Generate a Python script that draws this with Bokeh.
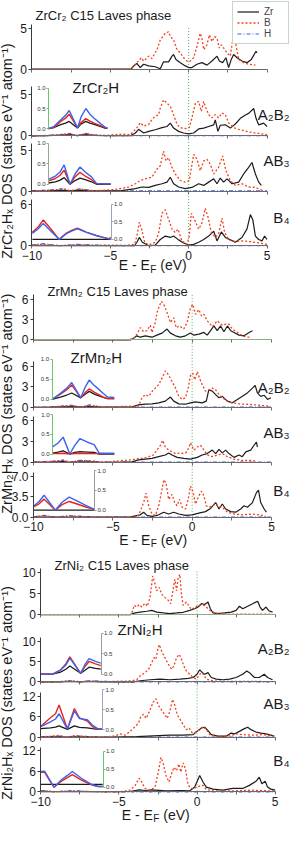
import math
from bokeh.plotting import figure
from bokeh.models import Range1d, LinearAxis, FixedTicker, Label, Legend, LegendItem
from bokeh.embed import file_html
from bokeh.resources import INLINE

# ---------------- ticks and texts ----------------
X_TICKS = [-10, -5, 0, 5]
X_MINOR = [-7.5, -2.5, 2.5]
INSET_TICKS = [0.0, 0.5, 1.0]
INSET_TICK_LABELS = ["0.0", "0.5", "1.0"]
CR_Y_TICKS = [[0, 5], [0, 5], [0, 5], [0, 6]]
MN_Y_TICKS = [[0, 3, 6], [0, 3, 6], [0, 3, 6], [0.0, 3.5, 7.0]]
NI_Y_TICKS = [[0, 5, 10], [0, 5, 10], [0, 6, 12], [0, 6, 12]]
CR_Y_LABELS = [["0", "5"], ["0", "5"], ["0", "5"], ["0", "6"]]
MN_Y_LABELS = [["0", "3", "6"], ["0", "3", "6"], ["0", "3", "6"], ["0.0", "3.5", "7.0"]]
NI_Y_LABELS = [["0", "5", "10"], ["0", "5", "10"], ["0", "6", "12"], ["0", "6", "12"]]
SERIES_NAMES = ["Zr", "B", "H"]
SIDE_TEXT = ["A₂B₂", "AB₃", "B₄"]
CR_TEXT = ["ZrCr₂ C15 Laves phase", "ZrCr₂H", "ZrCr₂Hₓ DOS (states eV⁻¹ atom⁻¹)"]
MN_TEXT = ["ZrMn₂ C15 Laves phase", "ZrMn₂H", "ZrMn₂Hₓ DOS (states eV⁻¹ atom⁻¹)"]
NI_TEXT = ["ZrNi₂ C15 Laves phase", "ZrNi₂H", "ZrNi₂Hₓ DOS (states eV⁻¹ atom⁻¹)"]
XLABEL_PARTS = ["E - E", "F", "(eV)"]

# ---------------- ZrCr2 ----------------
cr0_zr_e = [-10, -3.66, -3.51, -3.30, -3.09, -2.87, -2.55, -2.13, -1.81, -1.60, -1.28, -1.06, -0.96, -0.81, -0.53, -0.21, 0.0, 0.21, 0.53, 0.85, 1.17, 1.49, 1.81, 1.96, 2.17, 2.38, 2.55, 2.72, 2.87, 3.09, 3.40, 3.72, 4.00, 4.30, 4.36]
cr0_zr = [0, 0, 0.4, 0.7, 0.2, 0.6, 0.4, 0.3, 0.05, 0.9, 0.9, 1.6, 1.8, 1.2, 0.8, 0.4, 0.2, 0.2, 0.6, 0.8, 0.5, 1.0, 1.6, 1.0, 0.8, 1.4, 0.2, 1.2, 1.8, 1.4, 1.0, 0.8, 1.2, 2.2, 2.0]
cr0_b_e = [-10, -3.72, -3.51, -3.30, -3.02, -2.87, -2.55, -2.34, -2.02, -1.81, -1.49, -1.28, -1.17, -0.96, -0.74, -0.53, -0.32, -0.11, 0.04, 0.32, 0.53, 0.74, 0.85, 0.96, 1.17, 1.32, 1.49, 1.66, 1.81, 1.96, 2.09, 2.23, 2.45, 2.66, 2.87, 3.02, 3.19, 3.51, 3.83, 4.26]
cr0_b = [0, 0, 0.4, 0.8, 1.4, 1.0, 1.6, 1.3, 2.4, 3.6, 4.4, 4.6, 4.0, 3.6, 2.4, 2.0, 1.4, 1.0, 0.9, 1.4, 2.8, 4.4, 3.8, 2.4, 3.0, 4.2, 3.4, 4.0, 3.8, 2.6, 3.0, 2.6, 2.0, 1.6, 4.3, 3.0, 1.2, 0.8, 0.6, 0.5]

cr1_zr_e = [-10, -9.0, -8.2, -7.6, -7.1, -6.6, -6.0, -5.3, -4.0, -3.72, -3.40, -3.19, -2.87, -2.55, -2.13, -1.70, -1.38, -1.17, -0.96, -0.64, -0.32, 0.0, 0.32, 0.64, 0.96, 1.28, 1.60, 1.70, 1.87, 2.02, 2.34, 2.66, 2.98, 3.30, 3.62, 3.83, 4.15, 4.30, 4.47, 4.79, 5.0]
cr1_zr = [0, 0.02, 0.08, 0.15, 0.02, 0.15, 0.06, 0.02, 0.02, 0.02, 0.35, 0.8, 0.35, 0.55, 0.75, 1.0, 1.15, 1.55, 0.95, 0.55, 0.35, 0.25, 0.35, 0.85, 0.95, 1.15, 1.35, 1.95, 0.55, 1.3, 1.35, 0.95, 1.45, 2.15, 2.55, 2.75, 3.35, 2.15, 1.35, 1.55, 1.15]
cr1_b_e = [-10, -9.0, -8.2, -7.6, -7.1, -6.6, -6.0, -5.3, -4.8, -4.2, -3.72, -3.51, -3.30, -3.09, -2.87, -2.55, -2.34, -2.13, -1.91, -1.81, -1.60, -1.38, -1.17, -0.96, -0.74, -0.53, -0.21, 0.04, 0.21, 0.43, 0.64, 0.81, 0.96, 1.11, 1.28, 1.49, 1.70, 1.91, 2.13, 2.34, 2.55, 2.87, 3.19, 3.62, 4.04, 4.47, 5.0]
cr1_b = [0, 0.05, 0.15, 0.25, 0.05, 0.25, 0.1, 0.05, 0.15, 0.2, 0.15, 0.56, 1.0, 1.6, 1.2, 1.4, 2.0, 2.4, 2.6, 3.4, 4.4, 4.0, 3.6, 2.6, 1.4, 1.0, 0.9, 1.0, 2.2, 4.0, 4.2, 3.0, 4.2, 3.4, 2.6, 2.2, 2.6, 2.2, 2.8, 2.6, 1.6, 1.0, 0.8, 0.6, 0.4, 0.3, 0.15]
cr1_h_e = [-10, -9.0, -8.2, -7.6, -7.1, -6.6, -6.0, -5.3, -4.0, 0.0, 5.0]
cr1_h = [0, 0.03, 0.15, 0.3, 0.03, 0.3, 0.12, 0.03, 0.02, 0.02, 0.02]

cr2_zr_e = [-10, -9.0, -7.94, -7.57, -6.93, -6.4, -5.9, -4.8, -4.26, -3.40, -2.98, -2.55, -2.13, -1.70, -1.38, -1.17, -0.96, -0.64, -0.21, 0.21, 0.64, 0.96, 1.28, 1.60, 1.81, 2.02, 2.23, 2.45, 2.77, 3.19, 3.51, 3.83, 4.04, 4.26, 4.47, 4.64]
cr2_zr = [0, 0.03, 0.1, 0.02, 0.1, 0.05, 0.02, 0.02, 0.05, 0.3, 0.5, 0.45, 0.7, 0.9, 1.1, 1.7, 0.9, 0.5, 0.3, 0.45, 0.9, 0.7, 1.1, 1.5, 0.9, 1.6, 1.1, 1.5, 0.9, 1.1, 2.1, 2.9, 3.5, 2.1, 1.1, 0.7]
cr2_b_e = [-10, -9.0, -7.94, -7.57, -6.93, -6.4, -5.9, -5.5, -4.68, -3.83, -3.40, -3.09, -2.77, -2.34, -2.02, -1.81, -1.60, -1.45, -1.28, -1.06, -0.85, -0.53, -0.21, 0.04, 0.32, 0.53, 0.74, 0.96, 1.17, 1.38, 1.60, 1.91, 2.17, 2.38, 2.66, 2.98, 3.40, 3.83, 4.26, 4.68]
cr2_b = [0, 0.1, 0.25, 0.05, 0.25, 0.1, 0.05, 0.1, 0.2, 0.5, 0.9, 1.3, 1.5, 1.7, 2.7, 3.1, 4.9, 3.7, 4.1, 2.9, 2.1, 1.3, 1.1, 1.3, 4.5, 3.9, 2.5, 3.7, 3.9, 3.3, 2.1, 2.9, 4.3, 2.5, 1.3, 0.7, 0.9, 0.5, 0.45, 0.1]
cr2_h_e = [-10, -9.0, -7.94, -7.57, -6.93, -6.4, -5.9, -4.0, 5.0]
cr2_h = [0.05, 0.1, 0.3, 0.02, 0.28, 0.12, 0.03, 0.02, 0.02]

cr3_zr_e = [-10, -8.0, -5.0, -3.7, -3.45, -3.30, -3.15, -2.95, -2.55, -2.13, -1.81, -1.49, -1.17, -0.96, -0.64, -0.32, 0.0, 0.32, 0.64, 0.96, 1.28, 1.60, 1.81, 2.09, 2.34, 2.66, 2.98, 3.40, 3.72, 3.94, 4.09, 4.26, 4.47, 4.68, 4.85, 5.0]
cr3_zr = [0.02, 0.02, 0.02, 0.0, 0.0, 0.5, 1.2, 0.5, 0.0, 0.1, 0.9, 1.4, 1.2, 1.4, 0.85, 0.4, 0.1, 0.2, 0.5, 0.9, 1.4, 2.1, 0.7, 2.0, 1.2, 0.85, 0.5, 1.2, 2.4, 4.5, 3.8, 1.4, 0.9, 0.7, 1.4, 0.9]
cr3_b_e = [-10, -9.27, -8.26, -7.09, -6.0, -5.0, -4.0, -3.45, -3.30, -3.15, -3.0, -2.8, -2.55, -2.13, -1.91, -1.70, -1.49, -1.28, -1.06, -0.85, -0.68, -0.43, -0.11, 0.04, 0.17, 0.43, 0.64, 0.85, 1.06, 1.23, 1.45, 1.70, 1.91, 2.13, 2.30, 2.55, 2.98, 3.40, 3.94, 4.47, 5.0]
cr3_b = [0.1, 0.2, 0.02, 0.15, 0.05, 0.1, 0.05, 0.2, 1.4, 3.4, 2.4, 0.5, 0.1, 0.5, 1.9, 4.7, 5.2, 3.8, 2.4, 1.9, 2.4, 0.7, 0.2, 1.4, 4.7, 3.5, 2.4, 3.3, 5.4, 4.2, 1.9, 1.2, 1.7, 4.0, 1.9, 0.9, 0.6, 0.7, 0.6, 0.4, 0.2]
cr3_h_e = [-10, -9.27, -8.26, -7.09, -5.1, -4.0, 5.0]
cr3_h = [0.1, 0.3, 0.0, 0.2, 0.02, 0.02, 0.02]

# insets (energy, DOS) -- ZrCr2
cr_in1_e = [-8.95, -8.58, -8.16, -7.85, -7.62, -7.09, -6.85, -6.56, -6.3, -6.03, -5.6, -5.30, -5.18]
cr_in1_zr = [0.0, 0.03, 0.10, 0.14, 0.18, 0.02, 0.12, 0.18, 0.14, 0.11, 0.05, 0.01, 0.01]
cr_in1_b = [0.0, 0.04, 0.18, 0.26, 0.36, 0.02, 0.16, 0.25, 0.19, 0.14, 0.07, 0.02, 0.01]
cr_in1_h = [0.0, 0.06, 0.22, 0.33, 0.45, 0.02, 0.3, 0.50, 0.36, 0.26, 0.12, 0.03, 0.02]
cr_in2_e = [-8.95, -8.5, -8.2, -7.94, -7.57, -7.25, -6.93, -6.6, -6.2, -5.88, -5.4, -4.98]
cr_in2_zr = [0.03, 0.06, 0.1, 0.16, 0.0, 0.09, 0.15, 0.11, 0.06, 0.0, 0.0, 0.0]
cr_in2_b = [0.08, 0.14, 0.22, 0.34, 0.0, 0.18, 0.29, 0.2, 0.11, 0.01, 0.01, 0.01]
cr_in2_h = [0.12, 0.2, 0.3, 0.47, 0.0, 0.25, 0.42, 0.3, 0.18, 0.02, 0.01, 0.01]
cr_in3_e = [-9.97, -9.6, -9.27, -8.8, -8.26, -7.8, -7.4, -7.09, -6.5, -5.9, -5.4, -5.07, -4.98]
cr_in3_zr = [0.0, 0.0, 0.0, 0.0, 0.0, 0.0, 0.0, 0.0, 0.0, 0.0, 0.0, 0.0, 0.0]
cr_in3_b = [0.2, 0.35, 0.55, 0.3, 0.0, 0.18, 0.27, 0.32, 0.2, 0.11, 0.05, 0.01, 0.06]
cr_in3_h = [0.17, 0.3, 0.45, 0.24, 0.0, 0.16, 0.25, 0.3, 0.2, 0.11, 0.05, 0.02, 0.02]

# ---------------- ZrMn2 ----------------
mn0_zr_e = [-10, -3.90, -3.69, -3.48, -3.27, -2.95, -2.53, -2.22, -1.90, -1.58, -1.37, -1.05, -0.74, -0.42, -0.11, 0.11, 0.42, 0.74, 0.95, 1.16, 1.37, 1.58, 1.79, 2.0, 2.22, 2.43, 2.64, 2.95, 3.27, 3.59, 3.80]
mn0_zr = [0, 0, 0.25, 0.6, 0.4, 0.6, 0.4, 0.7, 1.0, 1.6, 1.0, 0.6, 0.4, 0.6, 1.0, 0.7, 0.85, 1.1, 0.7, 1.35, 2.05, 1.35, 2.05, 1.2, 2.05, 1.35, 1.1, 0.7, 0.6, 1.1, 1.35]
mn0_b_e = [-10, -4.01, -3.69, -3.48, -3.27, -3.06, -2.85, -2.64, -2.53, -2.32, -2.22, -2.07, -1.94, -1.79, -1.58, -1.37, -1.16, -1.01, -0.80, -0.53, -0.32, -0.11, 0.04, 0.21, 0.42, 0.59, 0.74, 0.95, 1.05, 1.27, 1.58, 1.90, 2.11, 2.32, 2.53, 2.85, 3.16, 3.48, 3.69]
mn0_b = [0, 0, 0.25, 0.85, 1.8, 1.2, 1.35, 2.15, 1.1, 2.55, 4.0, 4.95, 5.65, 5.2, 4.0, 2.55, 3.25, 1.8, 2.05, 1.6, 2.55, 4.7, 5.2, 3.75, 4.45, 3.5, 3.75, 2.8, 2.55, 1.95, 2.8, 2.15, 2.3, 2.3, 1.6, 1.1, 0.6, 0.4, 0.4]

mn1_zr_e = [-10, -9.0, -7.59, -7.02, -6.49, -5.5, -4.0, -3.80, -3.38, -2.95, -2.53, -2.11, -1.69, -1.37, -1.16, -0.84, -0.42, -0.11, 0.21, 0.63, 0.89, 1.05, 1.27, 1.48, 1.69, 1.90, 2.22, 2.53, 2.85, 3.16, 3.48, 3.80, 3.97, 4.11, 4.32, 4.54, 4.75, 4.96]
mn1_zr = [0, 0.02, 0.12, 0.02, 0.12, 0.02, 0.02, 0.02, 0.35, 0.45, 0.5, 0.65, 0.9, 1.5, 0.9, 0.5, 0.45, 0.65, 0.8, 0.65, 0.9, 2.55, 2.35, 1.85, 1.4, 1.6, 0.9, 0.65, 1.15, 1.6, 2.1, 2.8, 3.2, 2.1, 1.6, 1.75, 1.15, 1.4]
mn1_b_e = [-10, -9.0, -7.59, -7.02, -6.49, -5.8, -5.3, -4.5, -3.38, -3.16, -2.95, -2.74, -2.53, -2.32, -2.11, -1.90, -1.69, -1.48, -1.27, -1.05, -0.84, -0.63, -0.42, -0.25, -0.11, 0.04, 0.17, 0.32, 0.46, 0.63, 0.84, 1.05, 1.27, 1.48, 1.69, 1.90, 2.22, 2.53, 2.95, 3.38, 4.01, 4.85]
mn1_b = [0, 0.05, 0.25, 0.05, 0.25, 0.1, 0.05, 0.12, 0.2, 1.4, 1.85, 1.6, 2.3, 2.8, 3.3, 4.25, 5.3, 4.7, 3.75, 2.8, 1.6, 1.15, 1.4, 2.8, 4.6, 4.95, 4.0, 5.2, 4.25, 3.3, 2.35, 2.55, 2.8, 2.55, 1.85, 1.4, 0.9, 0.65, 0.5, 0.45, 0.35, 0.15]
mn1_h_e = [-10, -8.83, -7.59, -7.02, -6.49, -5.97, -5.34, -4.0, 5.0]
mn1_h = [0, 0.05, 0.3, 0.03, 0.35, 0.15, 0.03, 0.02, 0.02]

mn2_zr_e = [-10, -8.8, -8.13, -7.71, -7.08, -6.18, -5.86, -4.5, -3.80, -3.38, -2.95, -2.53, -2.11, -1.69, -1.48, -1.27, -0.95, -0.53, -0.11, 0.32, 0.63, 0.95, 1.27, 1.48, 1.69, 1.90, 2.11, 2.32, 2.64, 2.95, 3.16, 3.38, 3.69, 3.90, 4.05, 4.11]
mn2_zr = [0, 0.02, 0.08, 0.0, 0.06, 0.04, 0.0, 0.02, 0.05, 0.35, 0.45, 0.55, 0.8, 1.05, 1.35, 1.05, 0.7, 0.55, 0.45, 0.7, 1.05, 1.25, 1.75, 1.25, 1.85, 1.35, 1.75, 1.25, 0.7, 1.05, 0.8, 1.5, 1.75, 2.45, 2.9, 2.2]
mn2_b_e = [-10, -8.8, -8.13, -7.71, -7.08, -6.18, -5.86, -5.2, -5.06, -4.43, -3.80, -3.38, -3.06, -2.74, -2.43, -2.22, -2.0, -1.86, -1.69, -1.48, -1.27, -1.05, -0.74, -0.53, -0.32, -0.11, 0.11, 0.32, 0.53, 0.74, 0.95, 1.27, 1.58, 1.90, 2.22, 2.64, 3.16, 3.80, 4.01]
mn2_b = [0.05, 0.15, 0.3, 0.02, 0.25, 0.15, 0.03, 0.05, 0.1, 0.25, 0.35, 0.55, 0.55, 0.8, 1.05, 1.75, 2.45, 3.15, 2.2, 1.75, 1.5, 1.25, 1.35, 1.25, 1.5, 2.8, 1.75, 2.2, 2.45, 1.75, 1.05, 0.8, 1.05, 1.25, 0.8, 0.45, 0.25, 0.25, 0.15]
mn2_h_e = [-10, -8.8, -8.13, -7.71, -7.08, -6.18, -5.86, -4.0, 5.0]
mn2_h = [0.05, 0.12, 0.3, 0.0, 0.28, 0.15, 0.02, 0.02, 0.02]

mn3_zr_e = [-10, -8.0, -5.0, -3.9, -3.27, -3.06, -2.85, -2.53, -2.11, -1.79, -1.48, -1.16, -0.84, -0.42, 0.0, 0.42, 0.84, 1.16, 1.48, 1.69, 1.90, 2.11, 2.43, 2.74, 3.06, 3.27, 3.48, 3.80, 4.05, 4.18, 4.32, 4.54, 4.68]
mn3_zr = [0.02, 0.02, 0.02, 0.0, 0.4, 0.85, 0.3, 0.15, 0.4, 0.85, 0.55, 0.85, 0.55, 0.3, 0.4, 0.7, 0.95, 1.5, 2.5, 1.4, 2.25, 1.4, 0.95, 0.85, 1.4, 1.95, 1.7, 2.5, 4.2, 4.65, 2.5, 1.4, 0.85]
mn3_b_e = [-10, -9.33, -8.63, -7.75, -6.28, -5.0, -4.2, -3.38, -3.06, -2.91, -2.74, -2.53, -2.32, -2.11, -1.94, -1.79, -1.65, -1.48, -1.27, -1.10, -0.95, -0.80, -0.63, -0.42, -0.25, -0.11, 0.04, 0.21, 0.42, 0.59, 0.74, 0.89, 1.05, 1.27, 1.48, 1.69, 1.90, 2.22, 2.64, 3.16, 3.80, 4.22, 4.64]
mn3_b = [0.05, 0.25, 0.02, 0.2, 0.03, 0.05, 0.0, 0.3, 2.5, 4.1, 1.95, 0.55, 0.3, 1.95, 4.2, 6.4, 5.85, 3.05, 3.9, 2.5, 1.95, 3.05, 1.7, 1.4, 3.05, 5.3, 4.45, 2.25, 3.65, 4.45, 3.65, 1.95, 1.7, 1.95, 2.25, 1.7, 1.7, 0.85, 0.55, 0.4, 0.55, 0.4, 0.15]
mn3_h_e = [-10, -9.33, -8.63, -7.75, -6.28, -5.0, 5.0]
mn3_h = [0.05, 0.3, 0.0, 0.25, 0.03, 0.02, 0.02]

mn_in1_e = [-8.83, -8.3, -7.9, -7.59, -7.02, -6.75, -6.49, -6.2, -5.97, -5.6, -5.34, -4.91]
mn_in1_zr = [0.0, 0.06, 0.11, 0.16, 0.04, 0.13, 0.2, 0.14, 0.1, 0.05, 0.02, 0.02]
mn_in1_b = [0.0, 0.13, 0.24, 0.36, 0.04, 0.17, 0.26, 0.19, 0.14, 0.06, 0.02, 0.02]
mn_in1_h = [0.0, 0.15, 0.28, 0.42, 0.04, 0.3, 0.48, 0.36, 0.28, 0.15, 0.06, 0.05]
mn_in2_e = [-8.80, -8.45, -8.13, -7.71, -7.4, -7.08, -6.6, -6.18, -5.86, -5.4, -4.91]
mn_in2_zr = [0.02, 0.05, 0.08, 0.0, 0.04, 0.06, 0.05, 0.04, 0.0, 0.0, 0.0]
mn_in2_b = [0.01, 0.01, 0.02, 0.0, 0.01, 0.02, 0.01, 0.01, 0.01, 0.01, 0.01]
mn_in2_h = [0.18, 0.28, 0.43, 0.0, 0.22, 0.39, 0.3, 0.24, 0.02, 0.02, 0.02]
mn_in3_e = [-10.0, -9.65, -9.33, -9.0, -8.63, -8.2, -7.75, -7.2, -6.7, -6.28, -6.16]
mn_in3_zr = [0.0, 0.0, 0.0, 0.0, 0.0, 0.0, 0.0, 0.0, 0.0, 0.0, 0.0]
mn_in3_b = [0.08, 0.16, 0.28, 0.15, 0.0, 0.14, 0.22, 0.15, 0.08, 0.03, 0.03]
mn_in3_h = [0.1, 0.22, 0.38, 0.2, 0.0, 0.2, 0.33, 0.22, 0.12, 0.04, 0.03]

# ---------------- ZrNi2 ----------------
ni0_zr_e = [-10, -4.28, -3.96, -3.64, -3.22, -2.90, -2.58, -2.16, -1.74, -1.31, -0.89, -0.47, -0.15, 0.06, 0.28, 0.49, 0.70, 0.85, 1.02, 1.33, 1.76, 2.18, 2.50, 2.71, 2.92, 3.24, 3.56, 3.88, 4.03, 4.19, 4.41, 4.62, 4.83]
ni0_zr = [0, 0, 0.4, 0.6, 0.8, 1.0, 0.6, 0.4, 0.25, 0.4, 0.55, 1.0, 1.4, 1.8, 2.6, 2.4, 3.0, 1.4, 0.4, 0.25, 0.4, 0.6, 1.0, 2.0, 1.4, 2.0, 2.6, 3.2, 1.8, 1.0, 1.8, 0.85, 0.6]
ni0_b_e = [-10, -4.28, -4.17, -4.03, -3.86, -3.69, -3.54, -3.33, -3.18, -3.01, -2.84, -2.69, -2.58, -2.42, -2.27, -2.06, -1.84, -1.69, -1.53, -1.42, -1.31, -1.21, -1.10, -1.0, -0.89, -0.68, -0.51, -0.36, -0.15, 0.0, 0.17, 0.34, 0.55, 0.81, 1.12, 1.44, 2.08, 2.92, 3.98, 4.83]
ni0_b = [0, 0, 0.4, 2.2, 1.8, 2.4, 1.8, 2.7, 2.0, 4.1, 9.2, 7.3, 5.7, 6.5, 4.9, 4.1, 3.4, 2.6, 6.1, 8.4, 5.7, 8.8, 9.6, 4.9, 2.2, 3.0, 2.0, 1.2, 1.8, 2.0, 2.2, 2.4, 2.0, 1.0, 0.4, 0.25, 0.1, 0.1, 0.1, 0.1]

ni1_zr_e = [-10, -8.74, -8.14, -7.45, -6.91, -6.2, -5.0, -4.07, -3.64, -3.01, -2.37, -1.74, -1.10, -0.57, -0.25, 0.0, 0.17, 0.34, 0.49, 0.70, 0.91, 1.23, 1.65, 2.08, 2.50, 2.92, 3.18, 3.35, 3.67, 3.98, 4.30, 4.51, 4.83]
ni1_zr = [0, 0.05, 0.15, 0.02, 0.12, 0.05, 0.02, 0.02, 0.3, 0.55, 0.7, 0.55, 0.7, 0.9, 1.1, 1.9, 3.0, 2.3, 1.9, 2.3, 1.1, 0.7, 0.55, 0.7, 1.1, 1.9, 2.7, 2.3, 1.1, 1.1, 1.9, 1.1, 0.55]
ni1_b_e = [-10, -9.25, -8.74, -8.14, -7.45, -6.91, -6.2, -5.6, -5.34, -4.28, -3.86, -3.64, -3.33, -3.11, -2.90, -2.75, -2.63, -2.52, -2.42, -2.27, -2.06, -1.84, -1.63, -1.48, -1.31, -1.14, -1.0, -0.85, -0.68, -0.47, -0.25, -0.04, 0.17, 0.34, 0.59, 1.02, 1.86, 2.92, 4.62]
ni1_b = [0, 0, 0.1, 0.3, 0.03, 0.25, 0.1, 0.1, 0.15, 0.25, 0.55, 1.5, 2.3, 3.1, 4.8, 6.0, 5.6, 8.0, 9.2, 7.6, 6.0, 4.4, 3.1, 4.0, 6.0, 6.8, 5.6, 4.0, 2.7, 1.9, 1.1, 0.7, 1.9, 2.3, 0.7, 0.25, 0.15, 0.15, 0.1]
ni1_h_e = [-10, -9.25, -8.74, -8.14, -7.45, -6.91, -6.2, -5.0, 5.0]
ni1_h = [0, 0, 0.1, 0.3, 0.03, 0.3, 0.2, 0.02, 0.02]

ni2_zr_e = [-10, -8.83, -8.30, -7.85, -6.3, -5.34, -3.86, -2.80, -1.74, -0.89, -0.25, 0.0, 0.28, 0.49, 0.70, 0.91, 1.33, 1.86, 2.18, 2.39, 2.71, 3.03, 3.24, 3.45, 3.77, 4.09, 4.41, 4.72, 4.94]
ni2_zr = [0.05, 0.1, 0.02, 0.1, 0.02, 0.02, 0.2, 0.4, 0.6, 0.6, 0.75, 1.7, 2.7, 2.9, 1.9, 0.75, 0.3, 0.3, 1.2, 0.95, 1.7, 2.5, 2.9, 2.2, 1.5, 1.2, 0.95, 0.6, 0.3]
ni2_b_e = [-10, -9.38, -8.83, -8.30, -7.85, -7.02, -6.32, -5.8, -5.34, -4.92, -4.60, -4.28, -3.96, -3.75, -3.60, -3.43, -3.26, -3.11, -2.97, -2.80, -2.63, -2.48, -2.27, -2.06, -1.91, -1.74, -1.57, -1.42, -1.27, -1.06, -0.89, -0.68, -0.51, -0.30, -0.08, 0.17, 0.38, 0.59, 0.81, 1.23, 2.08, 2.50, 2.92, 3.56, 4.19, 4.83]
ni2_b = [0.1, 0.3, 0.5, 0.05, 0.45, 0.2, 0.05, 0.15, 0.3, 0.95, 0.6, 1.7, 3.1, 4.1, 6.0, 6.7, 5.5, 6.9, 8.4, 10.3, 11.2, 9.3, 7.9, 6.5, 5.5, 7.6, 11.0, 9.3, 6.5, 5.0, 3.6, 2.2, 2.7, 1.2, 1.5, 2.2, 3.1, 2.2, 0.75, 0.2, 0.4, 0.95, 0.75, 0.6, 0.75, 0.4]
ni2_h_e = [-10, -9.38, -8.83, -8.30, -7.85, -7.02, -6.32, -5.0, 5.0]
ni2_h = [0.08, 0.2, 0.35, 0.02, 0.4, 0.2, 0.03, 0.02, 0.02]

ni3_zr_e = [-10, -5.0, -4.3, -3.7, -3.3, -2.9, -2.0, -1.0, -0.47, -0.15, 0.17, 0.38, 0.59, 1.02, 1.65, 2.29, 2.92, 3.35, 3.77, 3.98, 4.15, 4.36, 4.51, 4.72, 5.0]
ni3_zr = [0.05, 0.05, 0.1, 0.6, 0.4, 0.6, 0.3, 0.35, 0.3, 1.4, 4.8, 2.9, 1.4, 0.8, 0.5, 1.0, 1.0, 1.9, 3.1, 4.3, 2.4, 3.1, 1.4, 0.8, 0.5]
ni3_b_e = [-10, -9.76, -9.15, -7.98, -6.71, -6.0, -5.3, -4.92, -4.28, -3.96, -3.71, -3.54, -3.33, -3.01, -2.69, -2.48, -2.31, -2.16, -1.99, -1.80, -1.63, -1.48, -1.31, -1.17, -1.04, -0.89, -0.74, -0.61, -0.47, -0.25, -0.04, 0.17, 0.38, 0.59, 1.02, 2.29, 3.56, 5.0]
ni3_b = [0.3, 0.3, 0.02, 0.25, 0.05, 0.02, 0.0, 0.0, 0.5, 1.9, 4.0, 2.9, 1.0, 0.5, 1.4, 5.8, 10.1, 8.2, 4.8, 2.9, 5.3, 7.2, 6.2, 8.2, 5.8, 8.5, 6.7, 2.9, 1.2, 0.8, 1.4, 1.7, 1.9, 0.7, 0.3, 0.3, 0.5, 0.2]
ni3_h_e = [-10, -9.76, -9.15, -7.98, -6.71, -6.0, -5.0, 5.0]
ni3_h = [0.4, 0.4, 0.0, 0.4, 0.06, 0.02, 0.02, 0.02]

ni_in1_e = [-10.0, -9.25, -8.74, -8.4, -8.14, -7.45, -7.15, -6.91, -6.5, -6.16]
ni_in1_zr = [0.0, 0.0, 0.05, 0.12, 0.2, 0.02, 0.1, 0.17, 0.14, 0.12]
ni_in1_b = [0.0, 0.0, 0.1, 0.25, 0.42, 0.02, 0.2, 0.31, 0.25, 0.21]
ni_in1_h = [0.0, 0.0, 0.1, 0.22, 0.39, 0.02, 0.25, 0.38, 0.31, 0.27]
ni_in2_e = [-10.0, -9.38, -9.06, -8.83, -8.30, -7.85, -7.53, -7.02, -6.70, -6.32, -6.07]
ni_in2_zr = [0.03, 0.05, 0.07, 0.1, 0.01, 0.1, 0.06, 0.05, 0.03, 0.01, 0.01]
ni_in2_b = [0.09, 0.3, 0.4, 0.62, 0.02, 0.53, 0.3, 0.22, 0.08, 0.02, 0.02]
ni_in2_h = [0.08, 0.2, 0.27, 0.4, 0.02, 0.47, 0.28, 0.25, 0.12, 0.02, 0.02]
ni_in3_e = [-10.0, -9.76, -9.45, -9.15, -8.7, -8.3, -7.98, -7.4, -6.71, -6.32, -6.04]
ni_in3_zr = [0.08, 0.08, 0.08, 0.08, 0.08, 0.08, 0.08, 0.08, 0.08, 0.08, 0.08]
ni_in3_b = [0.42, 0.42, 0.2, 0.0, 0.16, 0.27, 0.35, 0.2, 0.06, 0.02, 0.02]
ni_in3_h = [0.44, 0.45, 0.22, 0.0, 0.2, 0.33, 0.44, 0.25, 0.07, 0.02, 0.02]

# ---------------- styles ----------------
FONT = "Liberation Sans"
C_ZR, C_B, C_H = "#1c1c1c", "#f2401f", "#3a5ee8"
CI_ZR, CI_B, CI_H = "#1c1c1c", "#e8231a", "#3b63ec"
GREEN, GRAY, GRAYBLUE, GRAYGREEN = "#6cc46c", "#9a9a9a", "#98a8bc", "#90a890"
AXC = "#3a3a3a"

# layout in reference-pixel coordinates (page is 306 x 841)
LAYOUT = {
    "cr": dict(xa=39.4, xb=274.5,
               panels=[(70.0, 5, 28.5, 24), (138.0, 5, 96.3, 88), (194.3, 5, 152.7, 146), (250.0, 6, 207.7, 203)],
               ef=(28, 250), title=(43, 15.5), hlab=(80, 89), side_y=[116, 163.5, 221],
               ylab=(14, 153.5), xlab=(160, 270),
               insets=[(1, 130.7, 89.5, 56.0, "left", GREEN), (2, 187.3, 145.5, 56.0, "left", GRAYGREEN),
                       (3, 243.5, 207.5, 118.5, "right", GRAYBLUE)]),
    "mn": dict(xa=41.0, xb=279.0,
               panels=[(346.0, 6, 304.3, 300), (414.7, 6, 372.7, 368), (470.7, 6, 428.3, 424), (526.7, 7, 485.0, 481)],
               ef=(300, 527), title=(55, 296.5), hlab=(78, 364), side_y=[394, 440, 499.5],
               ylab=(14, 411), xlab=(160.5, 549.5),
               insets=[(1, 406.7, 365.5, 59.5, "left", GREEN), (2, 462.3, 422.3, 60.0, "left", GREEN),
                       (3, 519.5, 479.5, 102.0, "right", GRAY)]),
    "ni": dict(xa=48.3, xb=282.7,
               panels=[(626.0, 10, 583.3, 579), (694.7, 10, 653.3, 649), (751.0, 12, 709.0, 705), (806.7, 12, 765.0, 761)],
               ef=(582, 807), title=(62, 575.5), hlab=(125, 641.5), side_y=[661, 716.5, 774.5],
               ylab=(14, 706), xlab=(163, 830),
               insets=[(1, 686.7, 645.0, 108.5, "right", GRAY), (2, 743.5, 702.5, 110.0, "right", GRAYBLUE),
                       (3, 802.0, 765.5, 110.5, "right", GREEN)]),
}

GROUPS = {
    "cr": dict(ticks=CR_Y_TICKS, tick_labels=CR_Y_LABELS, text=CR_TEXT,
               panels=[(cr0_zr_e, cr0_zr, cr0_b_e, cr0_b, None, None),
                       (cr1_zr_e, cr1_zr, cr1_b_e, cr1_b, cr1_h_e, cr1_h),
                       (cr2_zr_e, cr2_zr, cr2_b_e, cr2_b, cr2_h_e, cr2_h),
                       (cr3_zr_e, cr3_zr, cr3_b_e, cr3_b, cr3_h_e, cr3_h)],
               insets=[(cr_in1_e, cr_in1_zr, cr_in1_b, cr_in1_h),
                       (cr_in2_e, cr_in2_zr, cr_in2_b, cr_in2_h),
                       (cr_in3_e, cr_in3_zr, cr_in3_b, cr_in3_h)]),
    "mn": dict(ticks=MN_Y_TICKS, tick_labels=MN_Y_LABELS, text=MN_TEXT,
               panels=[(mn0_zr_e, mn0_zr, mn0_b_e, mn0_b, None, None),
                       (mn1_zr_e, mn1_zr, mn1_b_e, mn1_b, mn1_h_e, mn1_h),
                       (mn2_zr_e, mn2_zr, mn2_b_e, mn2_b, mn2_h_e, mn2_h),
                       (mn3_zr_e, mn3_zr, mn3_b_e, mn3_b, mn3_h_e, mn3_h)],
               insets=[(mn_in1_e, mn_in1_zr, mn_in1_b, mn_in1_h),
                       (mn_in2_e, mn_in2_zr, mn_in2_b, mn_in2_h),
                       (mn_in3_e, mn_in3_zr, mn_in3_b, mn_in3_h)]),
    "ni": dict(ticks=NI_Y_TICKS, tick_labels=NI_Y_LABELS, text=NI_TEXT,
               panels=[(ni0_zr_e, ni0_zr, ni0_b_e, ni0_b, None, None),
                       (ni1_zr_e, ni1_zr, ni1_b_e, ni1_b, ni1_h_e, ni1_h),
                       (ni2_zr_e, ni2_zr, ni2_b_e, ni2_b, ni2_h_e, ni2_h),
                       (ni3_zr_e, ni3_zr, ni3_b_e, ni3_b, ni3_h_e, ni3_h)],
               insets=[(ni_in1_e, ni_in1_zr, ni_in1_b, ni_in1_h),
                       (ni_in2_e, ni_in2_zr, ni_in2_b, ni_in2_h),
                       (ni_in3_e, ni_in3_zr, ni_in3_b, ni_in3_h)]),
}

REF_X0, REF_X1, REF_H = 8, 298, 841


def lin(r_a, v_a, r_b, v_b):
    return lambda r: v_a + (v_b - v_a) * (r - r_a) / (r_b - r_a)


p = figure(width=290, height=825, output_backend="svg", toolbar_location=None,
           x_range=Range1d(REF_X0, REF_X1), y_range=Range1d(REF_H, 0),
           x_axis_location=None, y_axis_location=None, min_border=0,
           outline_line_color=None, background_fill_color="white", border_fill_color="white")
p.grid.visible = False


def add_text(x, y, text, size, align="left", angle=0.0, baseline="middle"):
    p.add_layout(Label(x=x, y=y, text=text, text_font=FONT, text_font_size=size,
                       text_color="#1a1a1a", text_align=align, text_baseline=baseline,
                       angle=angle))


legend_renderers = {}

for key in ["cr", "mn", "ni"]:
    lay = LAYOUT[key]
    grp = GROUPS[key]
    fx = lin(lay["xa"], -10, lay["xb"], 5)
    xr = "x_" + key
    p.extra_x_ranges[xr] = Range1d(fx(REF_X0), fx(REF_X1))

    # Fermi level dotted line
    p.segment(x0=[0], x1=[0], y0=[lay["ef"][0]], y1=[lay["ef"][1]], x_range_name=xr,
              line_color="#55b055", line_dash="1 2", line_width=1)

    for i, (y0, tv, yt, ytop) in enumerate(lay["panels"]):
        fy = lin(y0, 0, yt, tv)
        yr = "y_%s_%d" % (key, i)
        p.extra_y_ranges[yr] = Range1d(fy(REF_H), fy(0))
        bottom = (i == 3)
        ticks = grp["ticks"][i]
        yax = LinearAxis(x_range_name=xr, y_range_name=yr, fixed_location=-10,
                         bounds=(0, fy(ytop)),
                         ticker=FixedTicker(ticks=ticks, minor_ticks=[]),
                         major_label_overrides={t: s for t, s in zip(ticks, grp["tick_labels"][i])},
                         axis_line_color=AXC, major_tick_line_color=AXC,
                         major_tick_out=3, major_tick_in=0, minor_tick_line_color=None,
                         major_label_standoff=2, major_label_text_font=FONT,
                         major_label_text_font_size="12px", major_label_text_color="#1a1a1a")
        p.add_layout(yax, "left")
        xax = LinearAxis(x_range_name=xr, y_range_name=yr, fixed_location=0, bounds=(-10, 5),
                         ticker=FixedTicker(ticks=X_TICKS, minor_ticks=X_MINOR),
                         axis_line_color="#6a6a6a", major_tick_line_color="#6a6a6a",
                         minor_tick_line_color="#6a6a6a",
                         major_tick_out=3, major_tick_in=0, minor_tick_out=3, minor_tick_in=0,
                         major_label_standoff=2, major_label_text_font=FONT,
                         major_label_text_font_size="12px", major_label_text_color="#1a1a1a")
        if i == 0 and key != "cr":
            xax.axis_line_color = "#8aae8a"
        if not bottom:
            xax.major_label_text_color = None
        p.add_layout(xax, "below")

        zr_e, zr, b_e, b, h_e, h = grp["panels"][i]
        if h_e is not None:
            rh = p.line(h_e, h, x_range_name=xr, y_range_name=yr, line_color=C_H,
                        line_dash="4 2 1 2", line_width=1.2)
            legend_renderers.setdefault("H", rh)
        rz = p.line(zr_e, zr, x_range_name=xr, y_range_name=yr, line_color=C_ZR, line_width=1.2)
        rb = p.line(b_e, b, x_range_name=xr, y_range_name=yr, line_color=C_B,
                    line_dash="2 2", line_width=1.3)
        legend_renderers.setdefault("Zr", rz)
        legend_renderers.setdefault("B", rb)

    # insets
    for j, (pi, r0, r1, axx, side, col) in enumerate(lay["insets"]):
        fyi = lin(r0, 0, r1, 1)
        iyr = "in_%s_%d" % (key, j)
        p.extra_y_ranges[iyr] = Range1d(fyi(REF_H), fyi(0))
        iax = LinearAxis(x_range_name=xr, y_range_name=iyr, fixed_location=fx(axx), bounds=(0, 1),
                         ticker=FixedTicker(ticks=INSET_TICKS, minor_ticks=[]),
                         major_label_overrides={t: s for t, s in zip(INSET_TICKS, INSET_TICK_LABELS)},
                         axis_line_color=col, major_tick_line_color=col,
                         major_tick_out=2, major_tick_in=0, minor_tick_line_color=None,
                         major_label_standoff=1, major_label_text_font=FONT,
                         major_label_text_font_size="6px", major_label_text_color="#333333")
        p.add_layout(iax, side)
        ie, izr, ib, ih = grp["insets"][j]
        p.line(ie, izr, x_range_name=xr, y_range_name=iyr, line_color=CI_ZR, line_width=1.3)
        p.line(ie, ib, x_range_name=xr, y_range_name=iyr, line_color=CI_B, line_width=1.4)
        p.line(ie, ih, x_range_name=xr, y_range_name=iyr, line_color=CI_H, line_width=1.4)

    # texts
    add_text(lay["title"][0], lay["title"][1], grp["text"][0], "13px")
    add_text(lay["hlab"][0], lay["hlab"][1], grp["text"][1], "15px")
    for k, sy in enumerate(lay["side_y"]):
        add_text(297, sy, SIDE_TEXT[k], "15px", align="right")
    add_text(lay["ylab"][0], lay["ylab"][1], grp["text"][2], "14.5px", align="center",
             angle=math.pi / 2)
    cx, cy = lay["xlab"]
    x0 = cx - 33.8
    add_text(x0, cy, XLABEL_PARTS[0], "14px")
    add_text(x0 + 31.6, cy + 4, XLABEL_PARTS[1], "10px")
    add_text(x0 + 41.6, cy, XLABEL_PARTS[2], "14px")

legend = Legend(items=[LegendItem(label=n, renderers=[legend_renderers[n]]) for n in SERIES_NAMES],
                location="top_right", margin=1, padding=4, spacing=0,
                glyph_width=22, glyph_height=11, label_height=11, label_standoff=5,
                label_text_font=FONT, label_text_font_size="10px",
                border_line_color="#8fb08f", border_line_width=1,
                background_fill_color="white", background_fill_alpha=1.0)
p.add_layout(legend)

open("out.html", "w").write(file_html(p, INLINE))
